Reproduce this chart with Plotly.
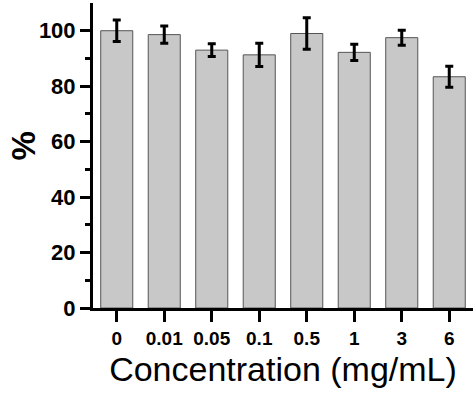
import plotly.graph_objects as go

categories = ["0", "0.01", "0.05", "0.1", "0.5", "1", "3", "6"]
means = [100.0, 98.6, 93.0, 91.3, 99.0, 92.2, 97.5, 83.4]
errors = [3.9, 3.1, 2.3, 4.2, 5.7, 2.9, 2.7, 3.8]

FONT = "Liberation Sans, Arial, sans-serif"

fig = go.Figure()
fig.add_trace(go.Bar(
    x=categories,
    y=means,
    width=0.675,
    marker=dict(color="#c8c8c8", line=dict(color="#555555", width=1)),
    error_y=dict(type="data", array=errors, visible=True,
                 color="black", thickness=3, width=4),
))

fig.update_layout(
    width=476, height=394,
    margin=dict(l=93, r=3, t=3, b=86),
    paper_bgcolor="white", plot_bgcolor="white",
    showlegend=False,
    bargap=0.325,
    xaxis=dict(
        type="category",
        range=[-0.5, 7.5],
        automargin=False,
        showline=True, linecolor="black", linewidth=3,
        ticks="outside", ticklen=11, tickwidth=3, tickcolor="black",
        tickfont=dict(family=FONT, size=19, color="black", weight="bold"),
        showgrid=False, zeroline=False,
        title=dict(text="Concentration (mg/mL)",
                   font=dict(family=FONT, size=34, color="black"),
                   standoff=10),
    ),
    yaxis=dict(
        range=[0, 110],
        automargin=False,
        tickvals=[0, 20, 40, 60, 80, 100],
        showline=True, linecolor="black", linewidth=3,
        ticks="outside", ticklen=10, tickwidth=3, tickcolor="black",
        minor=dict(ticks="outside", ticklen=5, tickwidth=3, tickcolor="black",
                   tickvals=[10, 30, 50, 70, 90], showgrid=False),
        tickfont=dict(family=FONT, size=22, color="black", weight="bold"),
        showgrid=False, zeroline=False,
    ),
    annotations=[dict(
        text="%", textangle=-90, showarrow=False,
        xref="paper", yref="paper", x=0, y=0.5,
        xanchor="center", yanchor="middle",
        xshift=-70, yshift=9,
        font=dict(family=FONT, size=33, color="black", weight="bold"),
    )],
)

fig.write_html("out.html",
               config={"displayModeBar": False},
               post_script="document.body.style.margin='0';document.body.style.overflow='hidden';")
